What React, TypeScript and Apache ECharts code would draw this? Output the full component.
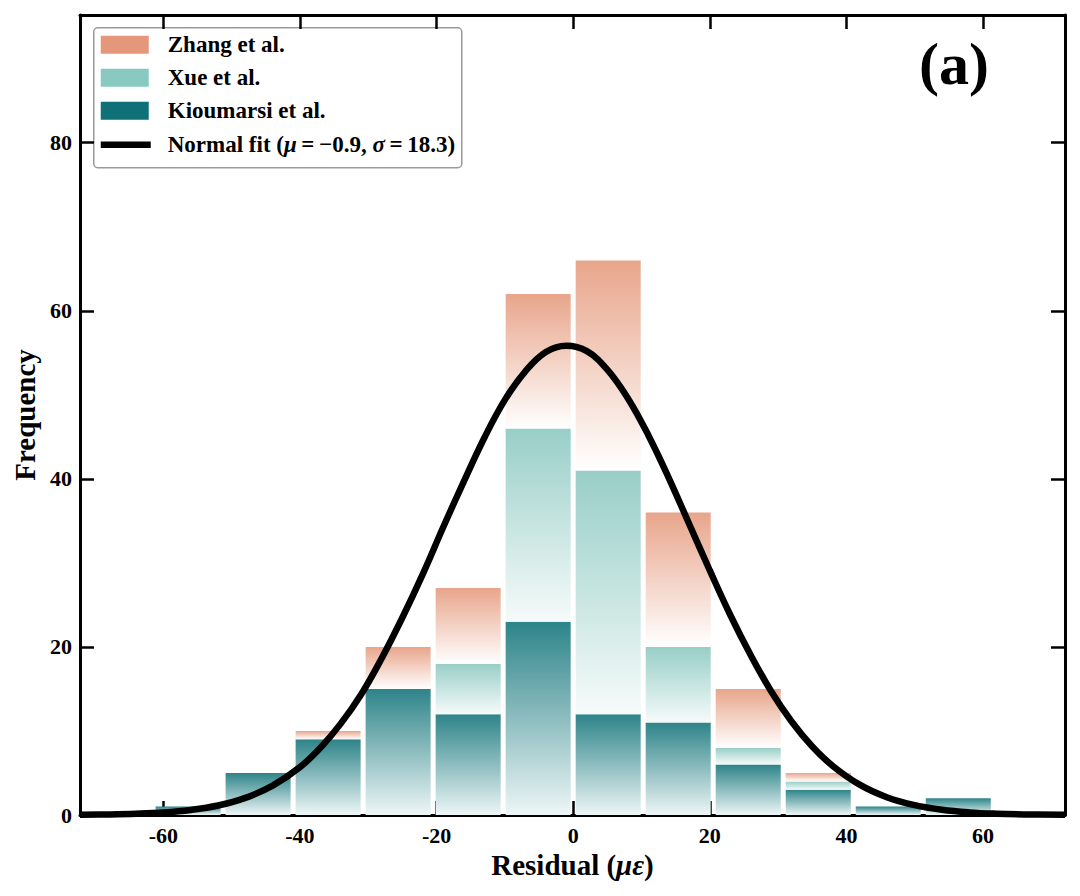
import React, { useEffect, useRef } from "react";
import * as echarts from "echarts";

// ---------- data ----------
const binEdges = [-61.5, -51.25, -41, -30.75, -20.5, -10.25, 0, 10.25, 20.5, 30.75, 41, 51.25, 61.5];
const kioumarsi = [1, 5, 9, 15, 12, 23, 12, 11, 6, 3, 1, 2];
const xue = [0, 0, 0, 0, 6, 23, 29, 9, 2, 1, 0, 0];
const zhang = [0, 0, 1, 5, 9, 16, 25, 16, 7, 1, 0, 0];

// normal-fit curve
const fitX = [-72.2, -68, -64, -60, -56, -52, -48, -44, -40, -37, -34, -31, -28, -25, -22, -19, -16, -13, -10, -7, -4, -1, 2, 5, 8, 11, 14, 17, 20, 23, 26, 29, 32, 35, 38, 42, 46, 50, 54, 58, 62, 66, 72];
const fitY = [0.03, 0.07, 0.15, 0.3, 0.6, 1.13, 2.04, 3.5, 5.7, 8.0, 10.9, 14.4, 18.7, 23.5, 28.7, 34.3, 39.7, 44.9, 49.4, 52.8, 55.1, 55.85, 55.2, 53.0, 49.6, 45.2, 40.1, 34.6, 29.1, 23.8, 19.0, 14.7, 11.1, 8.15, 5.84, 3.58, 2.09, 1.17, 0.62, 0.31, 0.15, 0.07, 0.02];

const xTicks = [-60, -40, -20, 0, 20, 40, 60];
const yTicks = [0, 20, 40, 60, 80];

const seriesNames = ["Zhang et al.", "Xue et al.", "Kioumarsi et al."];
const legendColors = ["#E5977B", "#88C9C1", "#0F7077"];

const SERIF = "'Liberation Serif', 'Times New Roman', Times, serif";

function buildSegments(values: number[], bases: number[]) {
  return values.map((v, i) => [binEdges[i], binEdges[i + 1], bases[i], bases[i] + v]);
}

const kBase = kioumarsi.map(() => 0);
const xBase = kioumarsi.map((k) => k);
const zBase = kioumarsi.map((k, i) => k + xue[i]);

function barSeries(name: string, segs: number[][], top: string, bottom: string) {
  return {
    type: "custom",
    name,
    xAxisIndex: 0,
    yAxisIndex: 0,
    z: 2,
    data: segs,
    encode: { x: [0, 1], y: [2, 3] },
    renderItem: (params: any, api: any) => {
      const x0 = api.value(0);
      const x1 = api.value(1);
      const b = api.value(2);
      const t = api.value(3);
      if (!(t > b)) return null;
      const p0 = api.coord([x0, t]);
      const p1 = api.coord([x1, b]);
      return {
        type: "rect",
        shape: { x: p0[0] + 2.5, y: p0[1], width: p1[0] - p0[0] - 5, height: p1[1] - p0[1] },
        style: {
          fill: new echarts.graphic.LinearGradient(0, 0, 0, 1, [
            { offset: 0, color: top },
            { offset: 1, color: bottom },
          ]),
        },
      };
    },
  };
}

export default function App() {
  const ref = useRef<HTMLDivElement>(null);

  useEffect(() => {
    if (!ref.current) return;
    const chart = echarts.init(ref.current, null, { renderer: "svg" });

    const tickLabel = {
      fontSize: 22,
      fontWeight: "bold",
      color: "#000",
      fontFamily: SERIF,
    };
    const axisLine = { show: true, onZero: false, lineStyle: { color: "#000", width: 3 } };
    const tickStyle = { color: "#000", width: 2.5 };

    const option: any = {
      animation: false,
      backgroundColor: "#fff",
      grid: { left: 80, right: 15, top: 15, bottom: 81, containLabel: false },
      xAxis: [
        {
          type: "value",
          position: "bottom",
          min: -72.2,
          max: 72,
          axisLine,
          axisTick: { show: true, inside: true, length: 14, lineStyle: tickStyle, customValues: xTicks },
          axisLabel: { ...tickLabel, margin: 9, customValues: xTicks, formatter: (v: number) => String(v) },
          splitLine: { show: false },
          name: "Residual ({i|με})",
          nameLocation: "middle",
          nameGap: 34,
          nameTextStyle: {
            fontSize: 29,
            fontWeight: "bold",
            color: "#000",
            fontFamily: SERIF,
            rich: {
              i: { fontSize: 29, fontWeight: "bold", fontStyle: "italic", color: "#000", fontFamily: SERIF },
            },
          },
        },
        {
          type: "value",
          position: "top",
          min: -72.2,
          max: 72,
          axisLine,
          axisTick: { show: true, inside: true, length: 14, lineStyle: tickStyle, customValues: xTicks },
          axisLabel: { show: false },
          splitLine: { show: false },
        },
      ],
      yAxis: [
        {
          type: "value",
          position: "left",
          min: 0,
          max: 95.2,
          axisLine,
          axisTick: { show: true, inside: true, length: 14, lineStyle: tickStyle, customValues: yTicks },
          axisLabel: { ...tickLabel, margin: 8, customValues: yTicks, formatter: (v: number) => String(v) },
          splitLine: { show: false },
          name: "Frequency",
          nameLocation: "middle",
          nameGap: 40,
          nameTextStyle: { fontSize: 29, fontWeight: "bold", color: "#000", fontFamily: SERIF },
        },
        {
          type: "value",
          position: "right",
          min: 0,
          max: 95.2,
          axisLine,
          axisTick: { show: true, inside: true, length: 14, lineStyle: tickStyle, customValues: yTicks },
          axisLabel: { show: false },
          splitLine: { show: false },
        },
      ],
      series: [
        barSeries(seriesNames[2], buildSegments(kioumarsi, kBase), "#2d8489", "#eef6f6"),
        barSeries(seriesNames[1], buildSegments(xue, xBase), "#98cec7", "#f6fbfa"),
        barSeries(seriesNames[0], buildSegments(zhang, zBase), "#e8a58b", "#ffffff"),
        {
          type: "line",
          name: "Normal fit",
          xAxisIndex: 0,
          yAxisIndex: 0,
          z: 5,
          smooth: 0.4,
          symbol: "none",
          data: fitX.map((x, i) => [x, fitY[i]]),
          lineStyle: { color: "#000", width: 6.5 },
        },
      ],
      graphic: [
        {
          type: "group",
          left: 93,
          top: 27,
          children: [
            {
              type: "rect",
              shape: { x: 0, y: 0, width: 368, height: 140, r: 4 },
              style: { fill: "rgba(255,255,255,0.85)", stroke: "#9a9a9a", lineWidth: 1.5 },
            },
            ...[0, 1, 2].map((i) => ({
              type: "rect",
              shape: { x: 7, y: 8 + i * 33, width: 48, height: 18 },
              style: { fill: legendColors[i] },
            })),
            {
              type: "line",
              shape: { x1: 7, y1: 117, x2: 57, y2: 117 },
              style: { stroke: "#000", lineWidth: 6.5 },
            },
            ...[0, 1, 2].map((i) => ({
              type: "text",
              x: 74,
              y: 17 + i * 33,
              style: {
                text: seriesNames[i],
                fontSize: 23,
                fontWeight: "bold",
                fontFamily: SERIF,
                fill: "#000",
                verticalAlign: "middle",
                align: "left",
              },
            })),
            {
              type: "text",
              x: 74,
              y: 117,
              style: {
                text: "Normal fit ({i|μ}\u2009=\u2009−0.9, {i|σ}\u2009=\u200918.3)",
                fontSize: 23,
                fontWeight: "bold",
                fontFamily: SERIF,
                fill: "#000",
                verticalAlign: "middle",
                align: "left",
                rich: {
                  i: { fontSize: 23, fontWeight: "bold", fontStyle: "italic", fontFamily: SERIF, fill: "#000" },
                },
              },
            },
          ],
        },
        {
          type: "text",
          x: 954,
          y: 64,
          style: {
            text: "(a)",
            fontSize: 60,
            fontWeight: "bold",
            fontFamily: SERIF,
            fill: "#000",
            align: "center",
            verticalAlign: "middle",
          },
        },
      ],
    };

    chart.setOption(option);
    return () => chart.dispose();
  }, []);

  return (
    <div
      ref={ref}
      style={{ position: "absolute", left: 0, top: 0, width: 1080, height: 896, background: "#fff" }}
    />
  );
}
